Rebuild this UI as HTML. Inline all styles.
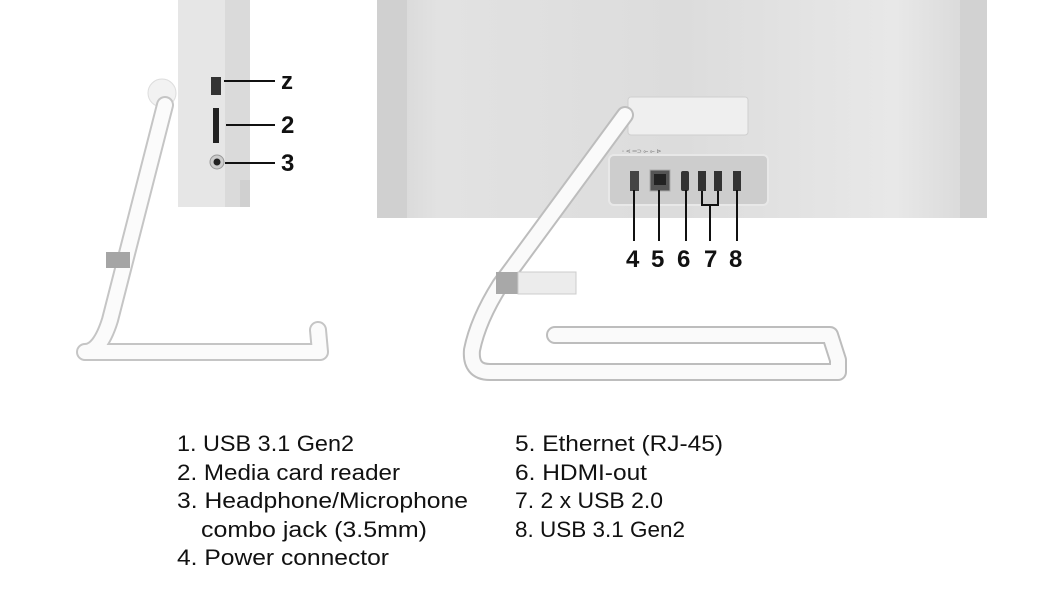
<!DOCTYPE html>
<html><head><meta charset="utf-8"><style>
html,body{margin:0;padding:0;background:#fff;}
svg{display:block}
text{font-family:"Liberation Sans",sans-serif;}
</style></head><body>
<svg width="1060" height="596" viewBox="0 0 1060 596" xmlns="http://www.w3.org/2000/svg">
<defs>
<linearGradient id="bg" x1="0" x2="1" y1="0" y2="0">
<stop offset="0" stop-color="#d4d4d4"/><stop offset="0.1" stop-color="#e2e2e2"/><stop offset="0.5" stop-color="#dcdcdc"/><stop offset="0.85" stop-color="#e8e8e8"/><stop offset="1" stop-color="#d6d6d6"/>
</linearGradient>
</defs>
<rect x="377" y="0" width="610" height="218" rx="3" fill="url(#bg)"/>
<rect x="377" y="0" width="30" height="218" fill="#d0d0d0"/>
<rect x="960" y="0" width="27" height="218" fill="#d2d2d2"/>
<rect x="628" y="97" width="120" height="38" rx="3" fill="#efefef" stroke="#cfcfcf"/>
<rect x="609" y="155" width="159" height="50" rx="5" fill="#cdcdcd" stroke="#e8e8e8" stroke-width="2"/>
<rect x="630" y="171" width="9" height="20" fill="#444"/>
<rect x="650" y="170" width="20" height="21" fill="#555" stroke="#aaa"/>
<rect x="654" y="174" width="12" height="11" fill="#222"/>
<rect x="681" y="171" width="8" height="20" rx="2" fill="#333"/>
<rect x="698" y="171" width="8" height="20" fill="#333"/>
<rect x="714" y="171" width="8" height="20" fill="#333"/>
<rect x="733" y="171" width="8" height="20" fill="#333"/>
<text x="622" y="153" font-size="6" fill="#777">◦   ⋖   ═⊃ ⟜ ⟜ ⊳</text>
<g stroke="#111" stroke-width="2" fill="none">
<line x1="634" y1="190" x2="634" y2="241"/>
<line x1="659" y1="190" x2="659" y2="241"/>
<line x1="686" y1="190" x2="686" y2="241"/>
<polyline points="702,191 702,205 718,205 718,191"/>
<line x1="710" y1="205" x2="710" y2="241"/>
<line x1="737" y1="190" x2="737" y2="241"/>
</g>
<g font-size="24" font-weight="bold" fill="#111">
<text x="626" y="267">4</text><text x="651" y="267">5</text><text x="677" y="267">6</text><text x="704" y="267">7</text><text x="729" y="267">8</text>
</g>
<g fill="none" stroke-linecap="round" stroke-linejoin="round">
<path d="M555,335 L830,335 L838,360 L838,372 L490,372 Q470,372 472,350 Q478,320 500,285 L625,115" stroke="#bdbdbd" stroke-width="18"/>
<path d="M555,335 L830,335 L838,360 L838,372 L490,372 Q470,372 472,350 Q478,320 500,285 L625,115" stroke="#fafafa" stroke-width="14"/>
</g>
<rect x="496" y="272" width="22" height="22" fill="#a8a8a8"/>
<rect x="518" y="272" width="58" height="22" fill="#ececec" stroke="#ccc"/>
<rect x="178" y="0" width="72" height="207" fill="#e6e6e6"/>
<rect x="225" y="0" width="25" height="207" fill="#dadada"/>
<rect x="240" y="180" width="10" height="27" fill="#d0d0d0"/>
<rect x="211" y="77" width="10" height="18" fill="#333"/>
<rect x="213" y="108" width="6" height="35" fill="#222"/>
<circle cx="217" cy="162" r="7" fill="#ccc" stroke="#999"/>
<circle cx="217" cy="162" r="3.5" fill="#222"/>
<g stroke="#111" stroke-width="2"><line x1="224" y1="81" x2="275" y2="81"/><line x1="226" y1="125" x2="275" y2="125"/><line x1="225" y1="163" x2="275" y2="163"/></g>
<g font-size="24" font-weight="bold" fill="#111"><text x="281" y="89">z</text><text x="281" y="133">2</text><text x="281" y="171">3</text></g>
<circle cx="162" cy="93" r="14" fill="#f2f2f2" stroke="#ddd"/>
<g fill="none" stroke-linecap="round" stroke-linejoin="round">
<path d="M165,105 L110,320 Q100,352 85,352 L320,352 L318,330" stroke="#c5c5c5" stroke-width="18"/>
<path d="M165,105 L110,320 Q100,352 85,352 L320,352 L318,330" stroke="#fbfbfb" stroke-width="14"/>
</g>
<rect x="106" y="252" width="24" height="16" fill="#a5a5a5"/>
<g font-size="22" fill="#111">
<text x="177" y="451" textLength="177" lengthAdjust="spacingAndGlyphs">1. USB 3.1 Gen2</text>
<text x="177" y="480" textLength="223" lengthAdjust="spacingAndGlyphs">2. Media card reader</text>
<text x="177" y="508" textLength="291" lengthAdjust="spacingAndGlyphs">3. Headphone/Microphone</text>
<text x="201" y="537" textLength="226" lengthAdjust="spacingAndGlyphs">combo jack (3.5mm)</text>
<text x="177" y="565" textLength="212" lengthAdjust="spacingAndGlyphs">4. Power connector</text>
<text x="515" y="451" textLength="208" lengthAdjust="spacingAndGlyphs">5. Ethernet (RJ-45)</text>
<text x="515" y="480" textLength="132" lengthAdjust="spacingAndGlyphs">6. HDMI-out</text>
<text x="515" y="508" textLength="148" lengthAdjust="spacingAndGlyphs">7. 2 x USB 2.0</text>
<text x="515" y="537" textLength="170" lengthAdjust="spacingAndGlyphs">8. USB 3.1 Gen2</text>
</g>
</svg>
</body></html>
